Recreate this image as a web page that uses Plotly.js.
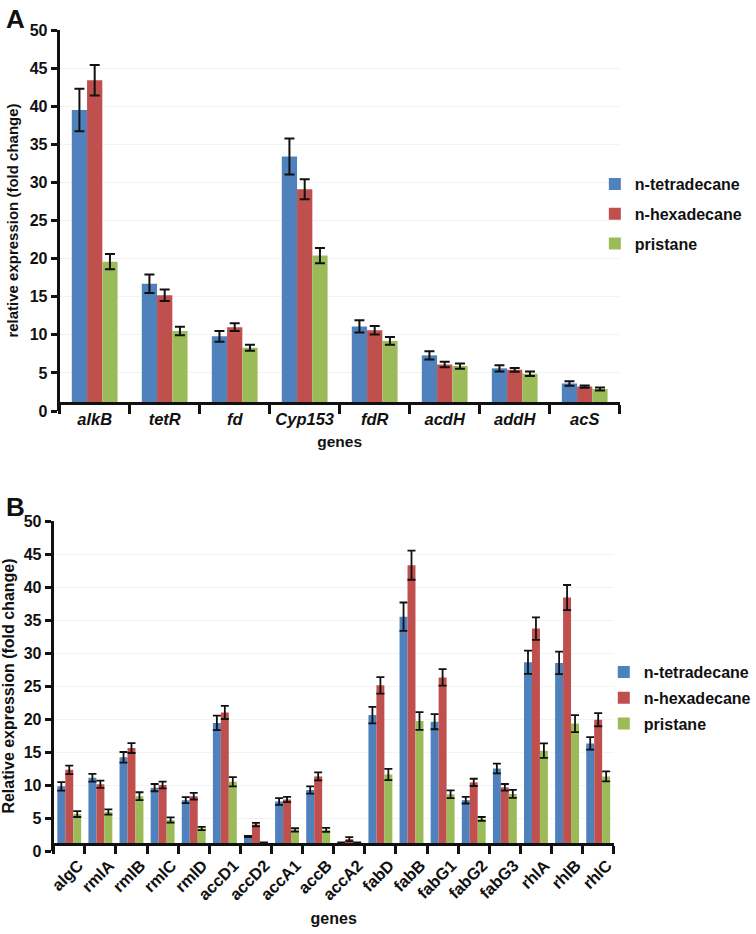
<!DOCTYPE html>
<html>
<head>
<meta charset="utf-8">
<script src="https://cdn.plot.ly/plotly-3.0.1.min.js"></script>
<style>html,body{margin:0;padding:0;background:#fff;}#chart{width:756px;height:934px;}</style>
</head>
<body>
<div id="chart"></div>
<script>
// ---------- Panel A data ----------
const genesA = ['alkB','tetR','fd','Cyp153','fdR','acdH','addH','acS'];
const tetA    = [39.5, 16.7, 9.8, 33.4, 11.1, 7.3, 5.6, 3.6];
const tetAerr = [2.8, 1.2, 0.7, 2.35, 0.8, 0.55, 0.4, 0.3];
const hexA    = [43.4, 15.2, 11.0, 29.1, 10.6, 6.1, 5.4, 3.2];
const hexAerr = [2.0, 0.75, 0.5, 1.3, 0.55, 0.35, 0.25, 0.15];
const priA    = [19.6, 10.5, 8.3, 20.4, 9.2, 5.9, 4.9, 2.9];
const priAerr = [1.0, 0.55, 0.4, 1.0, 0.5, 0.35, 0.3, 0.2];

// ---------- Panel B data ----------
const genesB = ['algC','rmlA','rmlB','rmlC','rmlD','accD1','accD2','accA1','accB','accA2','fabD','fabB','fabG1','fabG2','fabG3','rhlA','rhlB','rhlC'];
const tetB    = [9.8, 11.1, 14.2, 9.6, 7.7, 19.4, 2.2, 7.5, 9.25, 1.2, 20.6, 35.5, 19.6, 7.7, 12.5, 28.6, 28.5, 16.3];
const tetBerr = [0.65, 0.6, 0.8, 0.55, 0.45, 1.1, 0.1, 0.5, 0.55, 0.1, 1.25, 2.15, 1.15, 0.5, 0.75, 1.75, 1.7, 0.95];
const hexB    = [12.3, 10.1, 15.6, 10.0, 8.3, 21.0, 4.0, 7.8, 11.3, 1.8, 25.1, 43.3, 26.3, 10.4, 9.65, 33.7, 38.4, 19.9];
const hexBerr = [0.65, 0.55, 0.75, 0.5, 0.5, 1.0, 0.25, 0.4, 0.6, 0.3, 1.25, 2.2, 1.25, 0.55, 0.5, 1.7, 1.9, 1.0];
const priB    = [5.6, 5.9, 8.3, 4.7, 3.4, 10.5, 1.2, 3.2, 3.2, 1.2, 11.6, 19.7, 8.6, 4.85, 8.65, 15.2, 19.3, 11.3];
const priBerr = [0.45, 0.4, 0.6, 0.4, 0.25, 0.7, 0.1, 0.25, 0.3, 0.1, 0.85, 1.35, 0.6, 0.3, 0.6, 1.1, 1.3, 0.75];

const seriesNames = ['n-tetradecane','n-hexadecane','pristane'];
const colors = ['#4F81BD','#C0504D','#9BBB59'];

const AXIS_CROSS = 1;   // horizontal axis crosses the value axis at 1
const YMAX = 50;
const FONT = 'Liberation Sans, Arial, sans-serif';

function makeTraces(cats, vals, errs, xa, ya, w, legendName, errW, errT) {
  return vals.map((v, i) => ({
    type: 'bar',
    name: seriesNames[i],
    x: cats,
    y: v.map(d => d - AXIS_CROSS),
    base: AXIS_CROSS,
    width: w,
    offset: (i - 1.5) * w,
    xaxis: xa, yaxis: ya,
    legend: legendName,
    legendgroup: legendName + i,
    marker: {color: colors[i], line: {width: 0}},
    error_y: {type: 'data', array: errs[i], visible: true, color: '#111', thickness: errT, width: errW},
    hoverinfo: 'skip'
  }));
}

const W = 756, H = 934;
const domXA = [60 / W, 623 / W];
const domYA = [1 - 411 / H, 1 - 30 / H];
const domXB = [54 / W, 617 / W];
const domYB = [1 - 851 / H, 1 - 521 / H];
const posA = domYA[0] + (AXIS_CROSS / YMAX) * (domYA[1] - domYA[0]);
const posB = domYB[0] + (AXIS_CROSS / YMAX) * (domYB[1] - domYB[0]);

const data = [
  ...makeTraces(genesA, [tetA, hexA, priA], [tetAerr, hexAerr, priAerr], 'x', 'y', 0.218, 'legend', 5, 2),
  ...makeTraces(genesB, [tetB, hexB, priB], [tetBerr, hexBerr, priBerr], 'x2', 'y2', 0.256, 'legend2', 4, 1.8)
];

const bold = (size, extra) => Object.assign({family: FONT, size: size, color: '#111', weight: 'bold'}, extra || {});

const layout = {
  width: W, height: H,
  margin: {l: 0, r: 0, t: 0, b: 0},
  paper_bgcolor: '#fff', plot_bgcolor: '#fff',
  barmode: 'group',
  showlegend: true,
  xaxis: {
    domain: domXA, anchor: 'free', position: posA,
    type: 'category', range: [-0.5, genesA.length - 0.5],
    showline: true, linecolor: '#111', linewidth: 3,
    ticks: 'outside', tickson: 'boundaries', ticklen: 9, tickwidth: 3, tickcolor: '#111',
    tickfont: bold(16.5, {style: 'italic'}),
    showgrid: false, zeroline: false,
    title: {text: 'genes', font: bold(15.5), standoff: 8}
  },
  yaxis: {
    domain: domYA, anchor: 'x', range: [0, YMAX], dtick: 5,
    showline: true, linecolor: '#111', linewidth: 3,
    ticks: 'outside', ticklen: 6, tickwidth: 3, tickcolor: '#111',
    tickfont: bold(16),
    showgrid: true, gridcolor: '#f3f3f3', gridwidth: 1, zeroline: false,
    title: {text: 'relative expression (fold change)', font: bold(15), standoff: 8}
  },
  xaxis2: {
    domain: domXB, anchor: 'free', position: posB,
    type: 'category', range: [-0.5, genesB.length - 0.5],
    showline: true, linecolor: '#111', linewidth: 3,
    ticks: 'outside', tickson: 'boundaries', ticklen: 8, tickwidth: 3, tickcolor: '#111',
    tickangle: -45, ticklabelshift: 9, ticklabelstandoff: 3,
    tickfont: bold(16.5),
    showgrid: false, zeroline: false,
    title: {text: 'genes', font: bold(16), standoff: 10}
  },
  yaxis2: {
    domain: domYB, anchor: 'x2', range: [0, YMAX], dtick: 5,
    showline: true, linecolor: '#111', linewidth: 3,
    ticks: 'outside', ticklen: 6, tickwidth: 3, tickcolor: '#111',
    tickfont: bold(16),
    showgrid: true, gridcolor: '#f3f3f3', gridwidth: 1, zeroline: false,
    title: {text: 'Relative expression (fold change)', font: bold(16), standoff: 8}
  },
  legend: {
    x: 598 / W, xanchor: 'left', y: 1 - 167 / H, yanchor: 'top',
    font: bold(16), bgcolor: 'rgba(0,0,0,0)', borderwidth: 0,
    tracegroupgap: 6, itemwidth: 30, traceorder: 'grouped'
  },
  legend2: {
    x: 607 / W, xanchor: 'left', y: 1 - 655 / H, yanchor: 'top',
    font: bold(16), bgcolor: 'rgba(0,0,0,0)', borderwidth: 0,
    tracegroupgap: 2, itemwidth: 30, traceorder: 'grouped'
  },
  annotations: [
    {text: 'A', xref: 'paper', yref: 'paper', x: 4 / W, y: 1 - 2 / H, xanchor: 'left', yanchor: 'top', showarrow: false, font: bold(26)},
    {text: 'B', xref: 'paper', yref: 'paper', x: 4 / W, y: 1 - 490 / H, xanchor: 'left', yanchor: 'top', showarrow: false, font: bold(26)}
  ]
};

Plotly.newPlot('chart', data, layout, {displayModeBar: false, staticPlot: true});
</script>
</body>
</html>
